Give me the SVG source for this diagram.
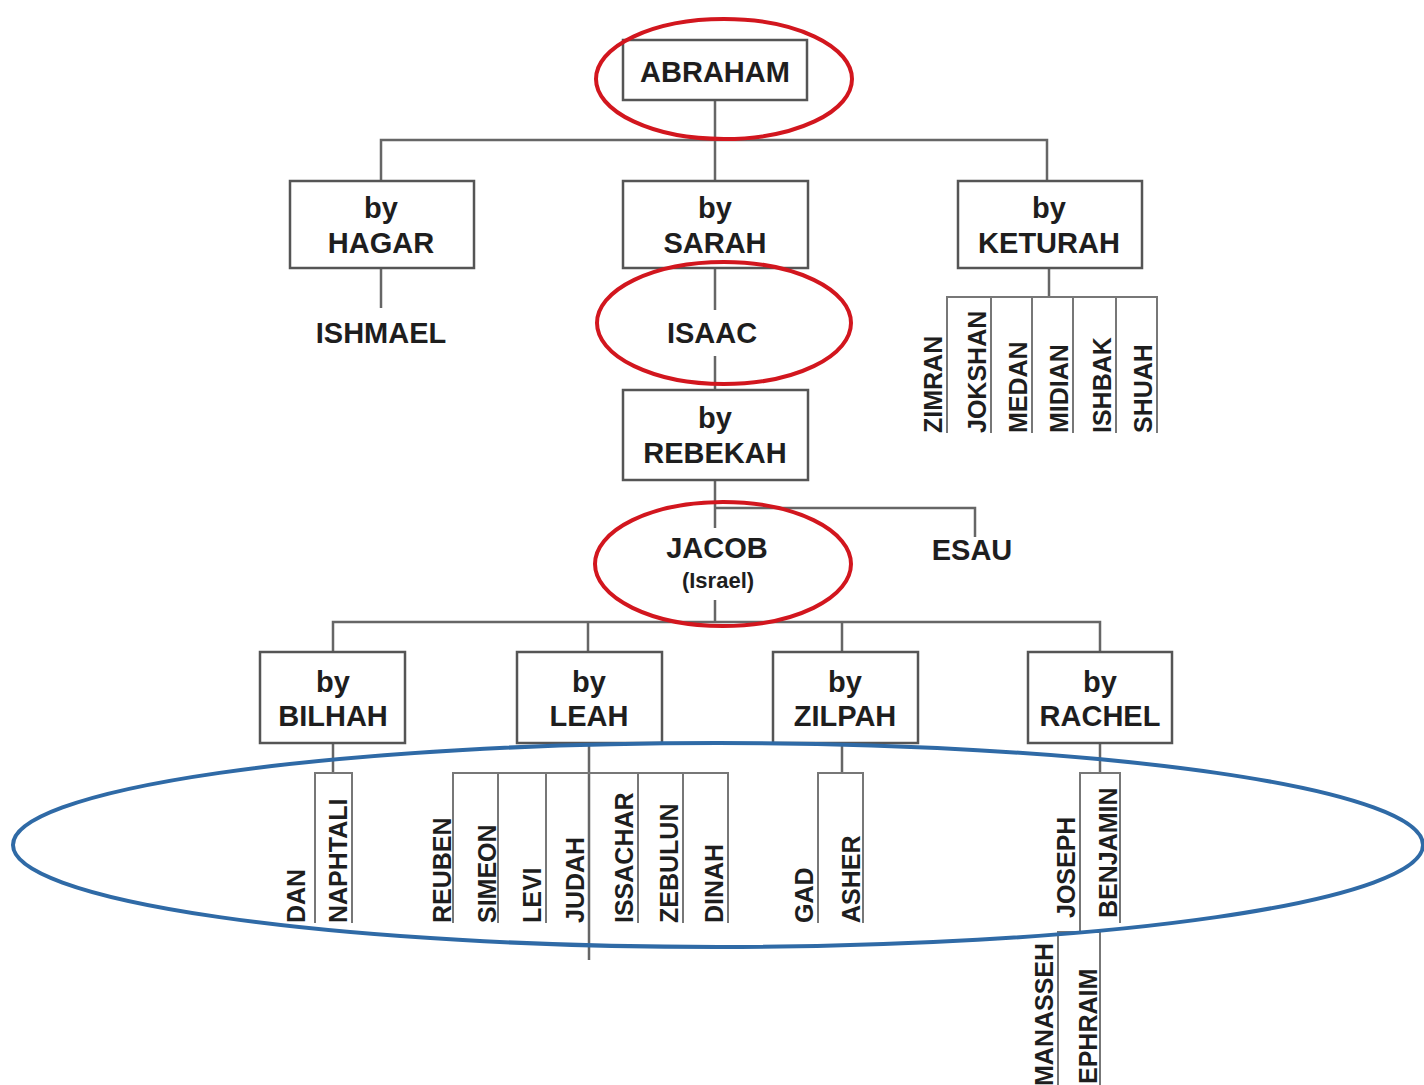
<svg xmlns="http://www.w3.org/2000/svg" width="1424" height="1085" viewBox="0 0 1424 1085">
<style>
.box{fill:#fff;stroke:#555;stroke-width:2.5}
.ln{fill:none;stroke:#666;stroke-width:2.5}
.sl{fill:none;stroke:#777;stroke-width:2}
.t{font-family:"Liberation Sans",Arial,sans-serif;font-weight:bold;font-size:29px;fill:#1e1e1e;text-anchor:middle}
.s{font-family:"Liberation Sans",Arial,sans-serif;font-weight:bold;font-size:22px;fill:#1e1e1e;text-anchor:middle}
.v{font-family:"Liberation Sans",Arial,sans-serif;font-weight:bold;font-size:25px;fill:#1e1e1e;text-anchor:start}
.red{fill:none;stroke:#d2161e;stroke-width:4}
.blue{fill:none;stroke:#2f6aa6;stroke-width:4}
</style>
<rect width="1424" height="1085" fill="#fff"/>
<g id="connectors">
<path class="ln" d="M715 100V181M381 181V140H1047V181"/>
<path class="ln" d="M381 268V308"/>
<path class="ln" d="M715 268V310M715 356V390"/>
<path class="ln" d="M1049 268V297"/>
<path class="sl" d="M947 433V297H1157V433M991 297V433M1032 297V433M1073 297V433M1116 297V433"/>
<path class="ln" d="M715 480V528M715 508H975V537"/>
<path class="ln" d="M715 600V622M333 652V622H1100V652M588 622V652M842 622V652"/>
<path class="ln" d="M333 743V773M589 743V960M842 743V773M1100 743V773"/>
<path class="sl" d="M315 923V773H352V923"/>
<path class="sl" d="M453 923V773H728V923M498 773V923M546 773V923M638 773V923M683 773V923"/>
<path class="sl" d="M818 923V773H863V923"/>
<path class="sl" d="M1080 932V773H1120V923M1058 1085V932H1100V1085"/>
</g>
<g id="abraham"><rect class="box" x="623" y="40" width="184" height="60"/><text class="t" x="715" y="82">ABRAHAM</text></g>
<g id="hagar"><rect class="box" x="290" y="181" width="184" height="87"/><text class="t" x="381" y="218">by</text><text class="t" x="381" y="253">HAGAR</text></g>
<g id="sarah"><rect class="box" x="623" y="181" width="185" height="87"/><text class="t" x="715" y="218">by</text><text class="t" x="715" y="253">SARAH</text></g>
<g id="keturah"><rect class="box" x="958" y="181" width="184" height="87"/><text class="t" x="1049" y="218">by</text><text class="t" x="1049" y="253">KETURAH</text></g>
<g id="ishmael"><text class="t" x="381" y="343">ISHMAEL</text></g>
<g id="isaac"><text class="t" x="712" y="343">ISAAC</text></g>
<g id="keturah-sons">
<text class="v" transform="translate(942 433) rotate(-90)">ZIMRAN</text>
<text class="v" transform="translate(986 433) rotate(-90)">JOKSHAN</text>
<text class="v" transform="translate(1027 433) rotate(-90)">MEDAN</text>
<text class="v" transform="translate(1068 433) rotate(-90)">MIDIAN</text>
<text class="v" transform="translate(1111 433) rotate(-90)">ISHBAK</text>
<text class="v" transform="translate(1152 433) rotate(-90)">SHUAH</text>
</g>
<g id="rebekah"><rect class="box" x="623" y="390" width="185" height="90"/><text class="t" x="715" y="428">by</text><text class="t" x="715" y="463">REBEKAH</text></g>
<g id="jacob"><text class="t" x="717" y="558">JACOB</text><text class="s" x="718" y="588">(Israel)</text></g>
<g id="esau"><text class="t" x="972" y="560">ESAU</text></g>
<g id="bilhah"><rect class="box" x="260" y="652" width="145" height="91"/><text class="t" x="333" y="692">by</text><text class="t" x="333" y="726">BILHAH</text></g>
<g id="leah"><rect class="box" x="517" y="652" width="145" height="91"/><text class="t" x="589" y="692">by</text><text class="t" x="589" y="726">LEAH</text></g>
<g id="zilpah"><rect class="box" x="773" y="652" width="145" height="91"/><text class="t" x="845" y="692">by</text><text class="t" x="845" y="726">ZILPAH</text></g>
<g id="rachel"><rect class="box" x="1028" y="652" width="144" height="91"/><text class="t" x="1100" y="692">by</text><text class="t" x="1100" y="726">RACHEL</text></g>
<g id="sons">
<text class="v" transform="translate(305 923) rotate(-90)">DAN</text>
<text class="v" transform="translate(347 923) rotate(-90)">NAPHTALI</text>
<text class="v" transform="translate(451 923) rotate(-90)">REUBEN</text>
<text class="v" transform="translate(496 923) rotate(-90)">SIMEON</text>
<text class="v" transform="translate(541 923) rotate(-90)">LEVI</text>
<text class="v" transform="translate(584 923) rotate(-90)">JUDAH</text>
<text class="v" transform="translate(633 923) rotate(-90)">ISSACHAR</text>
<text class="v" transform="translate(678 923) rotate(-90)">ZEBULUN</text>
<text class="v" transform="translate(723 923) rotate(-90)">DINAH</text>
<text class="v" transform="translate(813 923) rotate(-90)">GAD</text>
<text class="v" transform="translate(860 923) rotate(-90)">ASHER</text>
<text class="v" transform="translate(1075 918) rotate(-90)">JOSEPH</text>
<text class="v" transform="translate(1117 918) rotate(-90)">BENJAMIN</text>
<text class="v" transform="translate(1053 1086) rotate(-90)">MANASSEH</text>
<text class="v" transform="translate(1097 1084) rotate(-90)">EPHRAIM</text>
</g>
<g id="highlights">
<ellipse class="red" cx="724" cy="79" rx="128" ry="60"/>
<ellipse class="red" cx="724" cy="323" rx="127" ry="61"/>
<ellipse class="red" cx="723" cy="564" rx="128" ry="62"/>
<ellipse class="blue" cx="718" cy="845" rx="705" ry="102"/>
</g>
</svg>
